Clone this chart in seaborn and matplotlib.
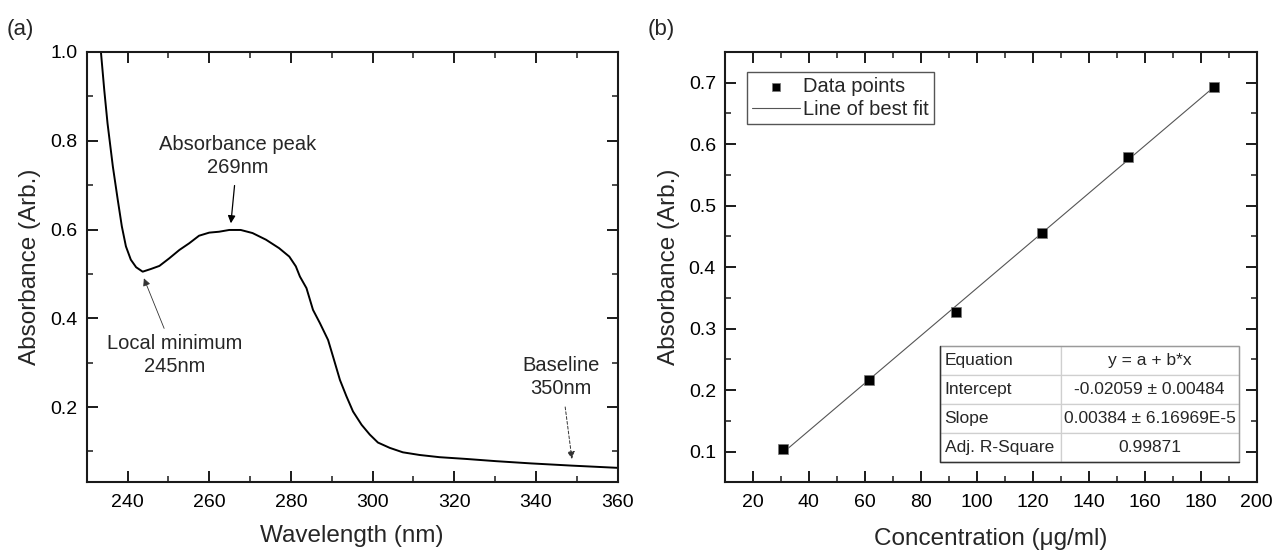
import numpy as np
import pandas as pd
import matplotlib
matplotlib.use("Agg")
import matplotlib.pyplot as plt
from matplotlib.ticker import MultipleLocator
import seaborn as sns

# ---------------- data ----------------
wavelength = [233.3, 233.5, 234.3, 235.1, 236.4, 237.6, 238.6, 239.6, 240.8, 242.1,
              243.7, 245.7, 247.8, 250.2, 252.7, 255.1, 257.5, 260.0, 262.4, 264.9,
              267.7, 270.6, 273.9, 277.1, 279.6, 281.2, 282.2, 283.8, 285.4, 287.1,
              289.1, 290.3, 292.0, 293.6, 295.2, 297.3, 299.3, 301.3, 304.2, 307.4,
              311.5, 316.4, 323.0, 330.3, 338.8, 348.8, 360.0]
absorbance = [1.03, 0.998, 0.914, 0.839, 0.742, 0.667, 0.607, 0.562, 0.532, 0.515,
              0.505, 0.511, 0.518, 0.535, 0.554, 0.569, 0.586, 0.593, 0.595, 0.599,
              0.599, 0.592, 0.577, 0.558, 0.539, 0.517, 0.494, 0.468, 0.419, 0.389,
              0.351, 0.314, 0.261, 0.224, 0.190, 0.160, 0.138, 0.120, 0.108, 0.098,
              0.092, 0.087, 0.083, 0.078, 0.073, 0.068, 0.063]

concentration = [30.8, 61.6, 92.4, 123.2, 154.0, 184.8]
conc_absorbance = [0.104, 0.216, 0.328, 0.456, 0.579, 0.693]

table_rows = ["Equation", "Intercept", "Slope", "Adj. R-Square"]
table_vals = ["y = a + b*x", "-0.02059 \u00b1 0.00484", "0.00384 \u00b1 6.16969E-5", "0.99871"]

# ---------------- style ----------------
sns.set_theme(style="ticks")
plt.rcParams['font.family'] = ['Liberation Sans', 'DejaVu Sans']

fig = plt.figure(figsize=(12.77, 5.53), dpi=100)
ax1 = fig.add_axes([0.0679, 0.1275, 0.4158, 0.7785])
ax2 = fig.add_axes([0.5677, 0.1275, 0.4164, 0.7785])

def style_axes(ax):
    for s in ax.spines.values():
        s.set_linewidth(1.5)
        s.set_color("#1a1a1a")
    ax.tick_params(which="both", direction="in", top=True, right=True,
                   colors="#1a1a1a", labelcolor="black", labelsize=14)
    ax.tick_params(which="major", length=8, width=1.4)
    ax.tick_params(which="minor", length=4, width=1.1)
    ax.tick_params(axis="x", which="major", pad=8.5)
    ax.tick_params(axis="y", which="major", pad=6.5)

# ---------------- panel (a) ----------------
df_a = pd.DataFrame({"Wavelength": wavelength, "Absorbance": absorbance})
sns.lineplot(data=df_a, x="Wavelength", y="Absorbance", ax=ax1, color="black",
             linewidth=1.4, sort=True)
ax1.set_xlim(230, 360)
ax1.set_ylim(0.03, 1.0)
ax1.xaxis.set_major_locator(MultipleLocator(20))
ax1.xaxis.set_minor_locator(MultipleLocator(10))
ax1.yaxis.set_minor_locator(MultipleLocator(0.1))
ax1.set_yticks([0.2, 0.4, 0.6, 0.8, 1.0])
ax1.set_yticklabels(["0.2", "0.4", "0.6", "0.8", "1.0"])
style_axes(ax1)
ax1.set_xlabel("Wavelength (nm)", fontsize=17.5, labelpad=10)
ax1.set_ylabel("Absorbance (Arb.)", fontsize=17.5, labelpad=7)

ann_fs = 14.5
ax1.annotate("Absorbance peak\n269nm", xy=(265.3, 0.614), xytext=(266.9, 0.766),
             ha="center", va="center", fontsize=ann_fs, linespacing=1.25,
             arrowprops=dict(arrowstyle="-|>", color="black", lw=0.9,
                             shrinkA=4, shrinkB=0, mutation_scale=11))
ax1.annotate("Local minimum\n245nm", xy=(244.0, 0.490), xytext=(251.6, 0.317),
             ha="center", va="center", fontsize=ann_fs, linespacing=1.25,
             arrowprops=dict(arrowstyle="-|>", color="#333333", lw=0.6,
                             shrinkA=2, shrinkB=0, mutation_scale=11))
ax1.annotate("Baseline\n350nm", xy=(348.8, 0.083), xytext=(346.2, 0.267),
             ha="center", va="center", fontsize=ann_fs, linespacing=1.25,
             arrowprops=dict(arrowstyle="-|>", color="#333333", lw=0.7,
                             linestyle=(0, (3, 2)),
                             shrinkA=4, shrinkB=0, mutation_scale=11))

# ---------------- panel (b) ----------------
df_b = pd.DataFrame({"Concentration": concentration, "Absorbance": conc_absorbance})
n_before = len(ax2.lines)
sns.regplot(data=df_b, x="Concentration", y="Absorbance", ax=ax2, ci=None,
            scatter=False, color="#555555", line_kws=dict(linewidth=0.8))
fit_line = ax2.lines[n_before]
sns.scatterplot(data=df_b, x="Concentration", y="Absorbance", ax=ax2, marker="s",
                s=60, color="black", edgecolor="#777777", linewidth=0.5,
                zorder=3, legend=False)
scat = ax2.collections[-1]
ax2.set_xlim(10, 200)
ax2.set_ylim(0.05, 0.75)
ax2.xaxis.set_minor_locator(MultipleLocator(10))
ax2.yaxis.set_minor_locator(MultipleLocator(0.05))
ax2.set_xticks(np.arange(20, 201, 20))
ax2.set_yticks(np.arange(0.1, 0.71, 0.1))
ax2.set_yticklabels([f"{v:.1f}" for v in np.arange(0.1, 0.71, 0.1)])
style_axes(ax2)
ax2.set_xlabel("Concentration (\u03bcg/ml)", fontsize=17.5, labelpad=12)
ax2.set_ylabel("Absorbance (Arb.)", fontsize=17.5, labelpad=6)

leg = ax2.legend([scat, fit_line], ["Data points", "Line of best fit"],
                 loc="upper left", bbox_to_anchor=(0.0414, 0.953), borderaxespad=0,
                 fontsize=14.5, frameon=True, fancybox=False, handlelength=2.4,
                 handletextpad=0.15, borderpad=0.25, labelspacing=0.2,
                 markerscale=0.8, framealpha=1)
leg.get_frame().set_edgecolor("#555555")
leg.get_frame().set_linewidth(1.0)

tb_x, tb_y, tb_w, tb_h = 0.404, 0.0476, 0.562, 0.270
tbl = ax2.table(cellText=[[r, v] for r, v in zip(table_rows, table_vals)],
                colWidths=[0.404, 0.596], bbox=[tb_x, tb_y, tb_w, tb_h],
                cellLoc="center")
tbl.auto_set_font_size(False)
tbl.set_fontsize(12.5)
for (r, c), cell in tbl.get_celld().items():
    cell.set_edgecolor("#cfcfcf")
    cell.set_linewidth(0.9)
    if c == 0:
        cell._loc = "left"
        cell.PAD = 0.04
        cell.get_text().set_ha("left")
ax2.add_patch(plt.Rectangle((tb_x, tb_y), tb_w, tb_h, transform=ax2.transAxes,
                            fill=False, edgecolor="#9a9a9a", linewidth=1.0, zorder=5))
ax2.plot([tb_x, tb_x, tb_x + tb_w], [tb_y + tb_h, tb_y, tb_y], transform=ax2.transAxes,
         color="#333333", linewidth=1.0, zorder=6)

# panel labels
fig.text(0.0055, 0.946, "(a)", fontsize=16, ha="left", va="center")
fig.text(0.5075, 0.946, "(b)", fontsize=16, ha="left", va="center")

fig.savefig("out.png", dpi=100)
